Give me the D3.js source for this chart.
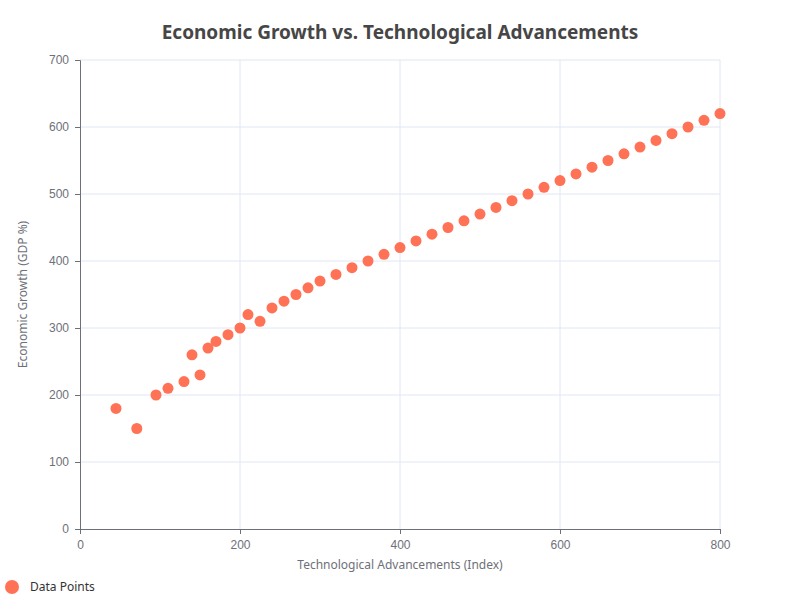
<!DOCTYPE html>
<html>
<head>
<meta charset="utf-8">
<script src="https://cdn.jsdelivr.net/npm/d3@7"></script>
<style>
  body { margin: 0; background: #fff; font-family: "Microsoft YaHei", "Noto Sans", sans-serif; }
</style>
</head>
<body>
<svg id="chart" width="800" height="600"></svg>
<script>
// data
const techIndex = [45, 71, 95, 110, 130, 140, 150, 160, 170, 185, 200, 210, 225, 240, 255, 270, 285, 300,
  320, 340, 360, 380, 400, 420, 440, 460, 480, 500, 520, 540, 560, 580, 600, 620, 640, 660, 680, 700,
  720, 740, 760, 780, 800];
const gdpGrowth = [180, 150, 200, 210, 220, 260, 230, 270, 280, 290, 300, 320, 310, 330, 340, 350, 360, 370,
  380, 390, 400, 410, 420, 430, 440, 450, 460, 470, 480, 490, 500, 510, 520, 530, 540, 550, 560, 570,
  580, 590, 600, 610, 620];
const xTicks = [0, 200, 400, 600, 800];
const yTicks = [0, 100, 200, 300, 400, 500, 600, 700];

const svg = d3.select("#chart");
const margin = { left: 80, right: 80, top: 60, bottom: 71 };
const width = 800, height = 600;

const x = d3.scaleLinear().domain([0, 800]).range([margin.left, width - margin.right]);
const y = d3.scaleLinear().domain([0, 700]).range([height - margin.bottom, margin.top]);

// grid
svg.append("g").selectAll("line").data(xTicks.slice(1)).enter().append("line")
  .attr("x1", d => x(d)).attr("x2", d => x(d))
  .attr("y1", y(0)).attr("y2", y(700))
  .attr("stroke", "#e0e6f1");
svg.append("g").selectAll("line").data(yTicks.slice(1)).enter().append("line")
  .attr("x1", x(0)).attr("x2", x(800))
  .attr("y1", d => y(d)).attr("y2", d => y(d))
  .attr("stroke", "#e0e6f1");

// axes
const xAxis = svg.append("g")
  .attr("transform", `translate(0,${y(0)})`)
  .call(d3.axisBottom(x).tickValues(xTicks).tickSize(5).tickPadding(6));
const yAxis = svg.append("g")
  .attr("transform", `translate(${x(0)},0)`)
  .call(d3.axisLeft(y).tickValues(yTicks).tickSize(5).tickPadding(6));
[xAxis, yAxis].forEach(a => {
  a.selectAll("path, line").attr("stroke", "#6e7079");
  a.selectAll("text").attr("fill", "#6e7079").style("font-size", "12px");
});

// points
svg.append("g").selectAll("circle").data(techIndex).enter().append("circle")
  .attr("cx", d => x(d))
  .attr("cy", (d, i) => y(gdpGrowth[i]))
  .attr("r", 5.5)
  .attr("fill", "#ff7256");

// titles
svg.append("text").attr("x", 400).attr("y", 39).attr("text-anchor", "middle")
  .attr("fill", "#464646").style("font-size", "19px").style("font-weight", "bold")
  .text("Economic Growth vs. Technological Advancements");
svg.append("text").attr("x", 400).attr("y", 569).attr("text-anchor", "middle")
  .attr("fill", "#6e7079").style("font-size", "12px")
  .text("Technological Advancements (Index)");
svg.append("text").attr("transform", `translate(27,${(y(0) + y(700)) / 2}) rotate(-90)`)
  .attr("text-anchor", "middle").attr("fill", "#6e7079").style("font-size", "12px")
  .text("Economic Growth (GDP %)");

// legend
svg.append("circle").attr("cx", 12).attr("cy", 587).attr("r", 7).attr("fill", "#ff7256");
svg.append("text").attr("x", 30).attr("y", 591).attr("fill", "#333")
  .style("font-size", "12px").text("Data Points");
</script>
</body>
</html>
